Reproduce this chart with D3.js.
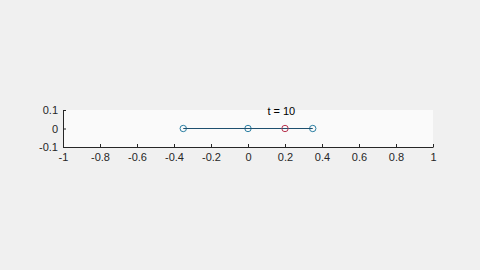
<!DOCTYPE html>
<html>
<head>
<meta charset="utf-8">
<script src="https://cdn.jsdelivr.net/npm/d3@7"></script>
<style>
  body { margin: 0; background: #f0f0f0; }
  svg { display: block; font-family: Arial, "Liberation Sans", sans-serif; }
</style>
</head>
<body>
<div id="chart"></div>
<script>
const xTicks = [-1, -0.8, -0.6, -0.4, -0.2, 0, 0.2, 0.4, 0.6, 0.8, 1]
const yTicks = [-0.1, 0, 0.1]
const chainX = [-0.35, 0, 0.35]
const chainY = [0, 0, 0]
const redX = [0.2]
const redY = [0]
const title = 't = 10'

const width = 480
const height = 270
const margin = ({ top: 110, right: 47, bottom: 123, left: 63 })

const x = d3.scaleLinear().domain([-1, 1]).range([margin.left, width - margin.right])
const y = d3.scaleLinear().domain([-0.1, 0.1]).range([height - margin.bottom, margin.top])

// MATLAB-style labels: plain hyphen minus
const fmt = d => String(+d.toFixed(1))

const svg = d3.select('#chart').append('svg')
    .attr('width', width)
    .attr('height', height)

svg.append('rect')
    .attr('x', x(-1)).attr('y', y(0.1))
    .attr('width', x(1) - x(-1)).attr('height', y(-0.1) - y(0.1))
    .attr('fill', '#fafafa')

const xAxis = g => g
    .attr('transform', `translate(0,${y(-0.1)})`)
    .call(d3.axisBottom(x).tickValues(xTicks).tickSize(-3).tickPadding(6).tickFormat(fmt).tickSizeOuter(0))
    .call(g => g.select('.domain').attr('stroke', '#262626'))
    .call(g => g.selectAll('.tick line').attr('stroke', '#262626'))
    .call(g => g.selectAll('text').attr('font-size', 11).attr('fill', '#262626'))

const yAxis = g => g
    .attr('transform', `translate(${x(-1)},0)`)
    .call(d3.axisLeft(y).tickValues(yTicks).tickSize(-3).tickPadding(5).tickFormat(fmt).tickSizeOuter(0))
    .call(g => g.select('.domain').attr('stroke', '#262626'))
    .call(g => g.selectAll('.tick line').attr('stroke', '#262626'))
    .call(g => g.selectAll('text').attr('font-size', 11).attr('fill', '#262626'))

svg.append('g').call(xAxis)
svg.append('g').call(yAxis)

const pts = chainX.map((d, i) => [d, chainY[i]])

svg.append('g')
    .selectAll('circle')
    .data(pts)
    .join('circle')
    .attr('cx', d => x(d[0]))
    .attr('cy', d => y(d[1]))
    .attr('r', 3.2)
    .attr('fill', 'none')
    .attr('stroke', '#2b7fa3')

svg.append('path')
    .datum(pts)
    .attr('fill', 'none')
    .attr('stroke', '#1d4f6e')
    .attr('stroke-width', 1)
    .attr('d', d3.line().x(d => x(d[0])).y(d => y(d[1])))

// red marker sits on top of the chain
svg.append('g')
    .selectAll('circle')
    .data(redX.map((d, i) => [d, redY[i]]))
    .join('circle')
    .attr('cx', d => x(d[0]))
    .attr('cy', d => y(d[1]))
    .attr('r', 3.2)
    .attr('fill', 'none')
    .attr('stroke', '#b8344f')

svg.append('text')
    .attr('x', x(0.18))
    .attr('y', y(0.1) + 5)
    .attr('text-anchor', 'middle')
    .attr('font-size', 11)
    .attr('fill', '#000')
    .text(title)
</script>
</body>
</html>
